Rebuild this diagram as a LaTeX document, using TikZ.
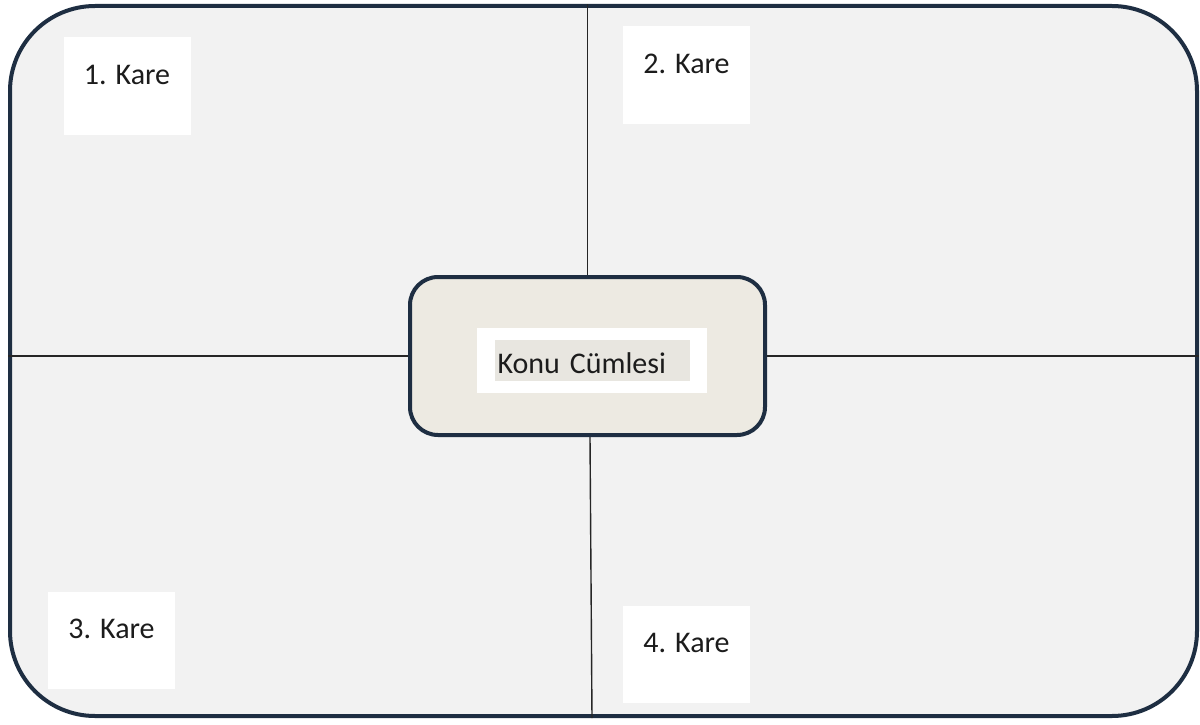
\documentclass[tikz,border=0pt]{standalone}
\usepackage{fontspec}
\setmainfont{Carlito}
\usepackage{xcolor}
\usepackage{tikz}
\usetikzlibrary{positioning,calc,backgrounds}
\definecolor{navy}{RGB}{30,46,66}
\definecolor{panel}{RGB}{242,242,242}
\definecolor{hubbg}{RGB}{237,234,226}
\definecolor{mark}{RGB}{232,230,224}
\definecolor{ink}{RGB}{28,28,28}
\tikzset{
  frm/.style={draw=navy,line width=4pt,fill=panel,rounded corners=85pt,minimum width=1187pt,minimum height=710pt,inner sep=0pt},
  hubbox/.style={draw=navy,line width=4pt,fill=hubbg,rounded corners=28pt,minimum width=355pt,minimum height=158pt,inner sep=0pt},
  tag/.style={fill=white,text=ink,font=\fontsize{30}{36}\selectfont,minimum width=127pt,text height=46pt,text depth=49pt,inner ysep=1pt,inner xsep=0pt},
  sep/.style={draw=black!85,line width=1.4pt},
}

\begin{document}
\begin{tikzpicture}[x=1pt,y=-1pt]
  \useasboundingbox (0,0) rectangle (1200,725);
  \node[hubbox] (hub) at (587.5,356) {};
  \node[fill=white,minimum width=230pt,minimum height=65pt,inner sep=0pt] (topicbg) at (592,360.5) {};
  \node[fill=mark,text=ink,font=\fontsize{30}{36}\selectfont,text width=189pt,align=left,inner xsep=3pt,inner ysep=2pt,text height=31pt,text depth=6pt] (topic) at (topicbg.center) {Konu Cümlesi};
  % squares
  \node[tag] (k1) at (127,86) {1. Kare};
  \node[tag] (k2) at (686.5,75) {2. Kare};
  \node[tag] (k3) at (111.5,640) {3. Kare};
  \node[tag] (k4) at (686.5,654) {4. Kare};
  % frame and dividing lines
  \begin{scope}[on background layer]
    \node[frm] (frame) at (603.5,361) {};
    \draw[sep] (hub.north) -- (hub.north |- frame.north);
    \draw[sep] ($(hub.south)+(2.5,0)$) -- ($(hub.south |- frame.south)+(4.5,0)$);
    \draw[sep] (hub.west) -- (hub.west -| frame.west);
    \draw[sep] (hub.east) -- (hub.east -| frame.east);
  \end{scope}
\end{tikzpicture}
\end{document}
